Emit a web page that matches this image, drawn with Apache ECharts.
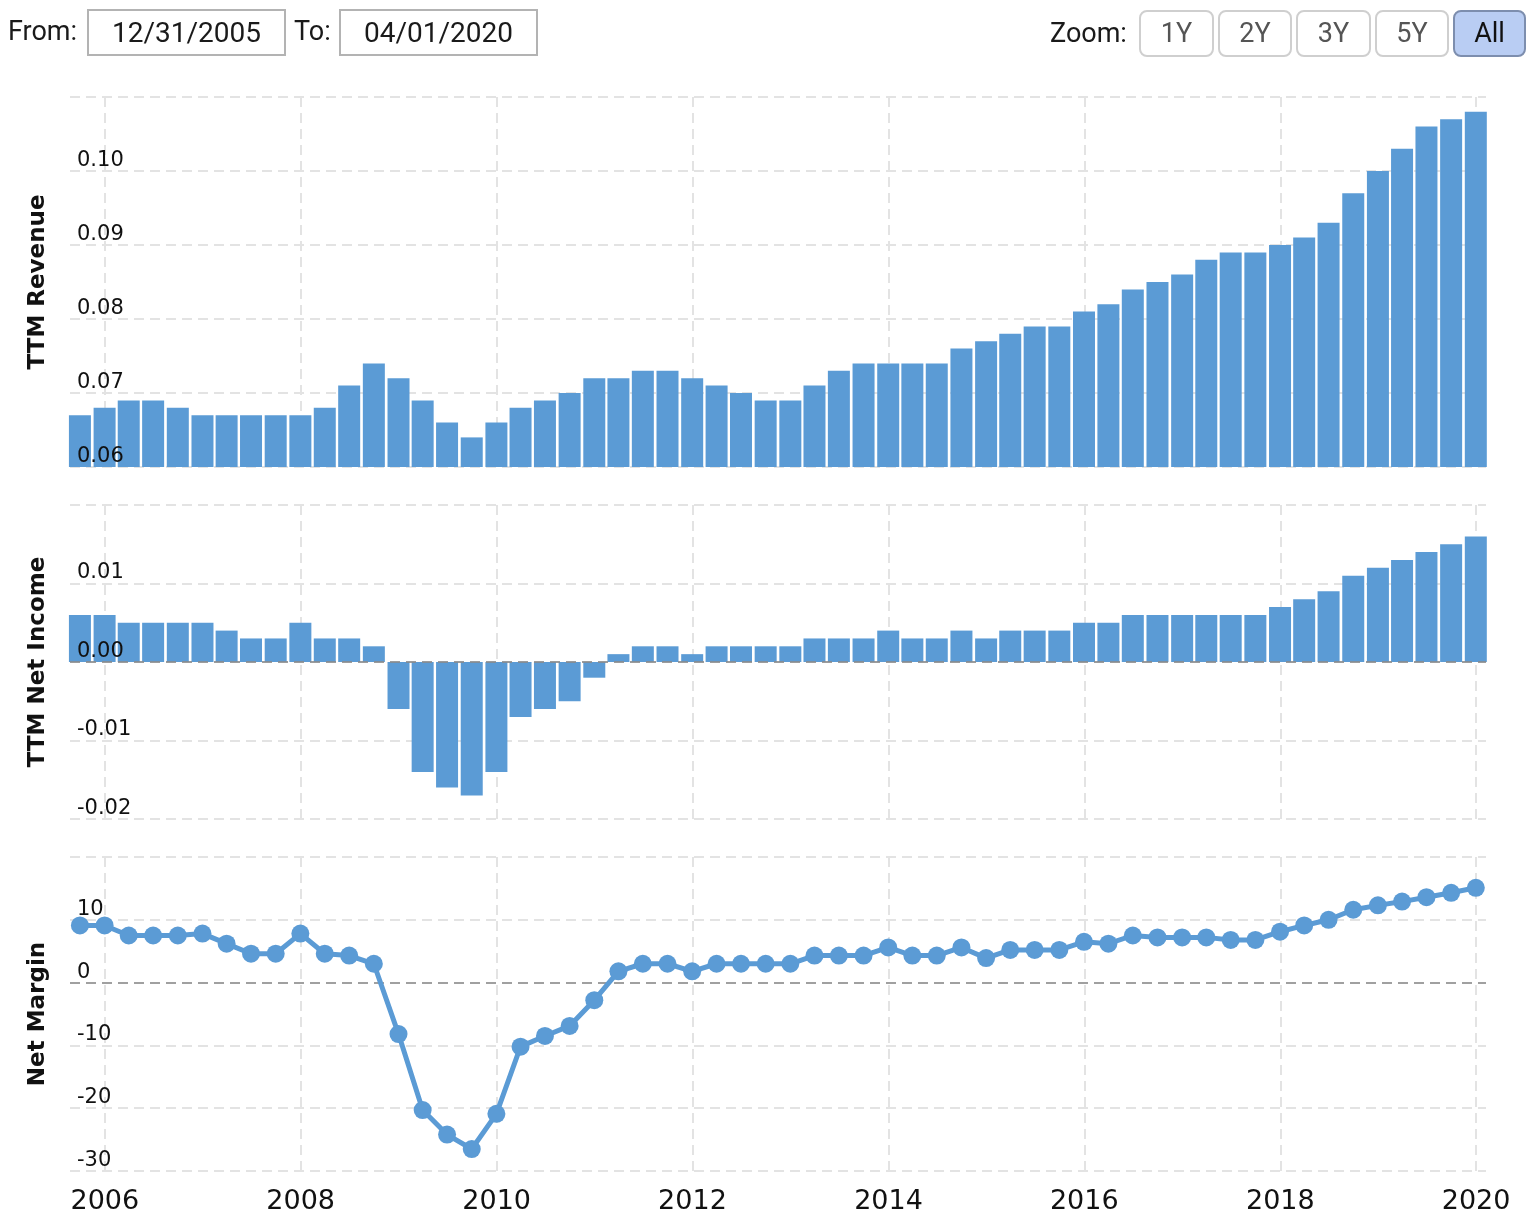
<!DOCTYPE html>
<html>
<head>
<meta charset="utf-8">
<script src="https://cdn.jsdelivr.net/npm/echarts@6/dist/echarts.min.js"></script>
<style>
html,body{margin:0;padding:0;background:#fff;}
#chart{position:absolute;left:0;top:0;width:1536px;height:1228px;}
.t{position:absolute;font-family:Roboto,"Open Sans",sans-serif;font-size:27px;color:#1a1a1a;line-height:46px;z-index:2;}
.box{position:absolute;top:9px;height:47px;border:2px solid #b3b3b3;box-sizing:border-box;text-align:center;font-family:Roboto,sans-serif;font-size:28px;color:#1a1a1a;line-height:43px;z-index:2;background:#fff;}
.btn{position:absolute;top:10px;height:47px;border:2px solid #cfcfcf;border-radius:8px;box-sizing:border-box;text-align:center;font-family:Roboto,sans-serif;font-size:27px;color:#555;line-height:43px;z-index:2;background:#fff;}
.btn.sel{background:#b9cdf3;border-color:#7d8eae;color:#111;}
</style>
</head>
<body>
<div id="chart"></div>
<div class="t" style="left:8px;top:8px;">From:</div>
<div class="box" style="left:87px;width:199px;">12/31/2005</div>
<div class="t" style="left:294px;top:8px;">To:</div>
<div class="box" style="left:339px;width:199px;">04/01/2020</div>
<div class="t" style="left:1050px;top:10px;">Zoom:</div>
<div class="btn" style="left:1139px;width:75px;">1Y</div>
<div class="btn" style="left:1218px;width:74px;">2Y</div>
<div class="btn" style="left:1296px;width:75px;">3Y</div>
<div class="btn" style="left:1375px;width:74px;">5Y</div>
<div class="btn sel" style="left:1453px;width:73px;">All</div>
<script>
// ---- data ----
const dates = [
 '2005-09-30','2005-12-31','2006-03-31','2006-06-30','2006-09-30','2006-12-31',
 '2007-03-31','2007-06-30','2007-09-30','2007-12-31','2008-03-31','2008-06-30',
 '2008-09-30','2008-12-31','2009-03-31','2009-06-30','2009-09-30','2009-12-31',
 '2010-03-31','2010-06-30','2010-09-30','2010-12-31','2011-03-31','2011-06-30',
 '2011-09-30','2011-12-31','2012-03-31','2012-06-30','2012-09-30','2012-12-31',
 '2013-03-31','2013-06-30','2013-09-30','2013-12-31','2014-03-31','2014-06-30',
 '2014-09-30','2014-12-31','2015-03-31','2015-06-30','2015-09-30','2015-12-31',
 '2016-03-31','2016-06-30','2016-09-30','2016-12-31','2017-03-31','2017-06-30',
 '2017-09-30','2017-12-31','2018-03-31','2018-06-30','2018-09-30','2018-12-31',
 '2019-03-31','2019-06-30','2019-09-30','2019-12-31'
];
const ttmRevenue = [
 0.067,0.068,0.069,0.069,0.068,0.067,0.067,0.067,0.067,0.067,0.068,0.071,
 0.074,0.072,0.069,0.066,0.064,0.066,0.068,0.069,0.070,0.072,0.072,0.073,
 0.073,0.072,0.071,0.070,0.069,0.069,0.071,0.073,0.074,0.074,0.074,0.074,
 0.076,0.077,0.078,0.079,0.079,0.081,0.082,0.084,0.085,0.086,0.088,0.089,
 0.089,0.090,0.091,0.093,0.097,0.100,0.103,0.106,0.107,0.108
];
const ttmNetIncome = [
 0.006,0.006,0.005,0.005,0.005,0.005,0.004,0.003,0.003,0.005,0.003,0.003,
 0.002,-0.006,-0.014,-0.016,-0.017,-0.014,-0.007,-0.006,-0.005,-0.002,0.001,0.002,
 0.002,0.001,0.002,0.002,0.002,0.002,0.003,0.003,0.003,0.004,0.003,0.003,
 0.004,0.003,0.004,0.004,0.004,0.005,0.005,0.006,0.006,0.006,0.006,0.006,
 0.006,0.007,0.008,0.009,0.011,0.012,0.013,0.014,0.015,0.016
];
const netMargin = [
 9.1,9.1,7.5,7.5,7.5,7.8,6.2,4.6,4.6,7.8,4.6,4.3,
 3.0,-8.2,-20.3,-24.2,-26.5,-20.9,-10.2,-8.5,-6.9,-2.8,1.8,3.0,
 3.0,1.8,3.0,3.0,3.0,3.0,4.3,4.3,4.3,5.6,4.3,4.3,
 5.6,3.9,5.2,5.2,5.2,6.5,6.2,7.5,7.2,7.2,7.2,6.8,
 6.8,8.1,9.1,10.0,11.6,12.3,12.9,13.6,14.3,15.1
];
const xTickYears = ['2006','2008','2010','2012','2014','2016','2018','2020'];
const revenueTicks = {min:0.06, max:0.11, interval:0.01};
const netIncomeTicks = {min:-0.02, max:0.02, interval:0.01};
const marginTicks = {min:-30, max:20, interval:10};

// ---- chart ----
const BLUE = '#5b9bd5';
const xMin = Date.UTC(2005,7,24);
const xMax = Date.UTC(2020,1,7);
const tickVals = xTickYears.map(y => Date.UTC(+y,0,1));
const ts = dates.map(d => Date.parse(d + 'T00:00:00Z'));
const gridDash = {color:'#e3e3e3', width:2, type:[10,6]};
const fontFam = '"DejaVu Sans", Verdana, sans-serif';

function xAxis(gi, showLabel){
  return {
    type:'value', gridIndex:gi, min:xMin, max:xMax,
    axisLine:{show:false}, axisTick:{show:false, customValues:tickVals},
    axisLabel:{show:showLabel, customValues:tickVals, fontFamily:fontFam, fontSize:27, color:'#111', margin:17,
      formatter:v => String(new Date(v).getUTCFullYear())},
    splitLine:{show:true, lineStyle:gridDash}
  };
}
function yAxes(gi, t, fmt, name){
  return [
    {type:'value', gridIndex:gi, position:'left', min:t.min, max:t.max, interval:t.interval,
     axisLine:{show:false}, axisTick:{show:false}, axisLabel:{show:false},
     splitLine:{show:true, lineStyle:gridDash}, z:0},
    {type:'value', gridIndex:gi, position:'left', min:t.min, max:t.max, interval:t.interval,
     name:name, nameLocation:'middle', nameGap:20, nameRotate:90,
     nameTextStyle:{fontFamily:fontFam, fontWeight:'bold', fontSize:23, color:'#111'},
     axisLine:{show:false}, axisTick:{show:false}, splitLine:{show:false},
     axisLabel:{inside:true, margin:7, verticalAlign:'bottom', showMaxLabel:false,
       fontFamily:fontFam, fontSize:21, color:'#111', formatter:fmt},
     z:10}
  ];
}

const chart = echarts.init(document.getElementById('chart'), null, {renderer:'canvas'});
chart.setOption({
  animation:false,
  backgroundColor:'#fff',
  grid:[
    {left:70, right:50, top:97, height:370},
    {left:70, right:50, top:505, height:314},
    {left:70, right:50, top:857, height:314}
  ],
  xAxis:[xAxis(0,false), xAxis(1,false), xAxis(2,true)],
  yAxis:[
    ...yAxes(0, revenueTicks, v => v.toFixed(2), 'TTM Revenue'),
    ...yAxes(1, netIncomeTicks, v => (Math.abs(v) < 1e-9 ? 0 : v).toFixed(2), 'TTM Net Income'),
    ...yAxes(2, marginTicks, v => String(Math.round(v)), 'Net Margin')
  ],
  series:[
    {type:'bar', xAxisIndex:0, yAxisIndex:0, barWidth:22,
     itemStyle:{color:BLUE},
     data:ts.map((t,i)=>[t, ttmRevenue[i]])},
    {type:'bar', xAxisIndex:1, yAxisIndex:2, barWidth:22,
     itemStyle:{color:BLUE},
     data:ts.map((t,i)=>[t, ttmNetIncome[i]]),
     markLine:{silent:true, symbol:'none', label:{show:false},
       lineStyle:{color:'#8a8a8a', width:2, type:[10,6], opacity:0.8}, data:[{yAxis:0}]}},
    {type:'line', xAxisIndex:2, yAxisIndex:4, showAllSymbol:true,
     symbol:'circle', symbolSize:18,
     lineStyle:{color:BLUE, width:5}, itemStyle:{color:BLUE},
     data:ts.map((t,i)=>[t, netMargin[i]]),
     markLine:{silent:true, symbol:'none', z:1, label:{show:false},
       lineStyle:{color:'#a0a0a0', width:2, type:[10,6]}, data:[{yAxis:0}]}}
  ]
});
</script>
</body>
</html>
